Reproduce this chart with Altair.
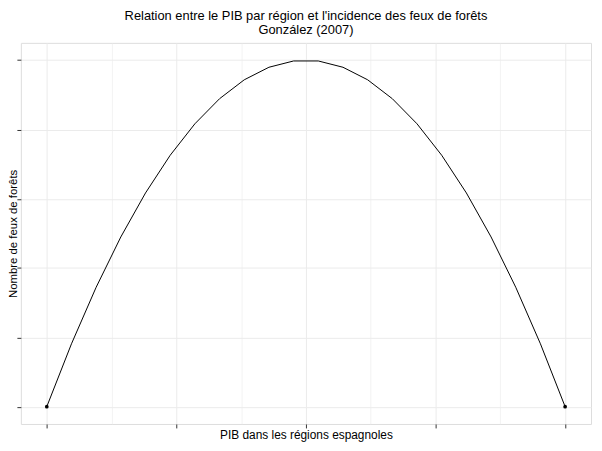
import altair as alt
import pandas as pd

# PIB (x) and number of fires (y) along the curve
pib = [0.0, 0.1905, 0.3810, 0.5714, 0.7619, 0.9524, 1.1429, 1.3333, 1.5238, 1.7143, 1.9048,
       2.0952, 2.2857, 2.4762, 2.6667, 2.8571, 3.0476, 3.2381, 3.4286, 3.6190, 3.8095, 4.0]
feux = [0.0, 0.907, 1.723, 2.449, 3.084, 3.628, 4.082, 4.444, 4.717, 4.898, 4.989,
        4.989, 4.898, 4.717, 4.444, 4.082, 3.628, 3.084, 2.449, 1.723, 0.907, 0.0]

# end points marked with dots
pib_pts = [0.0, 4.0]
feux_pts = [0.0, 0.0]

x_grid = [0, 0.5, 1, 1.5, 2, 2.5, 3, 3.5, 4]
y_grid = [0, 0.5, 1, 1.5, 2, 2.5, 3, 3.5, 4, 4.5, 5]

df = pd.DataFrame({"pib": pib, "feux": feux})
df_pts = pd.DataFrame({"pib": pib_pts, "feux": feux_pts})

FONT = "Liberation Sans"
minor_test = "datum.value % 1 !== 0"

x_axis = alt.Axis(
    values=x_grid, labels=False, domain=False,
    tickSize=4, tickColor="#333333", tickWidth=1,
    tickOpacity={"condition": {"test": minor_test, "value": 0}, "value": 1},
    grid=True, gridColor="#EBEBEB",
    gridWidth={"condition": {"test": minor_test, "value": 0.6}, "value": 1},
    title="PIB dans les régions espagnoles", titleFont=FONT, titleFontSize=12,
    titleFontWeight="normal", titleColor="black",
    titleBaseline="alphabetic", titleY=15,
)
y_axis = alt.Axis(
    values=y_grid, labels=False, domain=False,
    tickSize=4, tickColor="#333333", tickWidth=1,
    tickOpacity={"condition": {"test": minor_test, "value": 0}, "value": 1},
    grid=True, gridColor="#EBEBEB",
    gridWidth={"condition": {"test": minor_test, "value": 0.6}, "value": 1},
    title="Nombre de feux de forêts", titleFont=FONT, titleFontSize=11.5,
    titleFontWeight="normal", titleColor="black",
    titleBaseline="alphabetic", titleX=-4,
)

xs = alt.Scale(domain=[-0.2, 4.2], nice=False, zero=False)
ys = alt.Scale(domain=[-0.25, 5.25], nice=False, zero=False)

line = alt.Chart(df).mark_line(color="black", strokeWidth=1).encode(
    x=alt.X("pib:Q", scale=xs, axis=x_axis),
    y=alt.Y("feux:Q", scale=ys, axis=y_axis),
)
pts = alt.Chart(df_pts).mark_circle(color="black", size=14, opacity=1).encode(
    x=alt.X("pib:Q", scale=xs),
    y=alt.Y("feux:Q", scale=ys),
)

chart = (line + pts).properties(
    width=576,
    height=385,
    autosize=alt.AutoSizeParams(type="none"),
    padding={"left": 13, "top": 33, "right": 3, "bottom": 17},
    title=alt.TitleParams(
        ["Relation entre le PIB par région et l'incidence des feux de forêts", "González (2007)"],
        font=FONT, fontSize=13, fontWeight="normal", color="black",
        anchor="middle", lineHeight=14, offset=6,
    ),
).configure_view(stroke="#333333", strokeWidth=1).configure(background="white")

chart.save("out.html", embed_options={"renderer": "svg", "actions": False})
